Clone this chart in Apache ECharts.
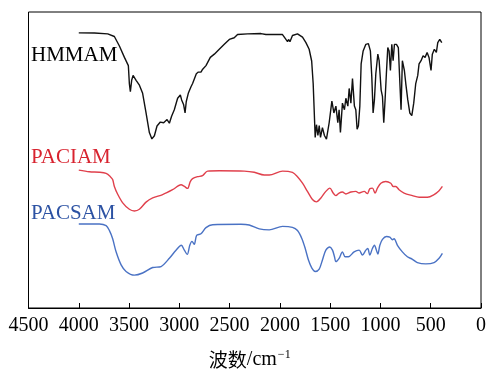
<!DOCTYPE html>
<html>
<head>
<meta charset="utf-8">
<script src="https://cdn.jsdelivr.net/npm/echarts@6/dist/echarts.min.js"></script>
<style>
html,body{margin:0;padding:0;background:#fff;}
#chart{width:489px;height:376px;}
</style>
</head>
<body>
<div id="chart"></div>
<script>
// x tick labels (wavenumber, cm-1)
const xTicks = [4500, 4000, 3500, 3000, 2500, 2000, 1500, 1000, 500, 0];
const seriesNames = ['HMMAM', 'PACIAM', 'PACSAM'];

// HMMAM (offset transmittance, arbitrary units)
const hmmamWn = [4000,3844,3712,3646,3596,3546,3507,3497,3487,3474,3460,3430,3397,3365,3331,3298,3273,3248,3222,3189,3156,3122,3099,3077,3050,3017,2990,2977,2957,2943,2931,2911,2884,2868,2851,2831,2811,2785,2772,2735,2692,2652,2603,2553,2503,2454,2421,2322,2188,2139,2056,1974,1940,1924,1914,1900,1875,1825,1775,1741,1709,1684,1669,1659,1649,1636,1622,1609,1596,1577,1557,1537,1510,1483,1463,1443,1424,1411,1398,1378,1358,1344,1324,1311,1294,1278,1259,1245,1232,1219,1205,1192,1172,1145,1120,1100,1086,1073,1060,1046,1026,1013,993,980,967,954,941,927,914,901,887,874,861,841,822,808,795,782,762,748,728,708,688,669,649,629,616,596,576,556,536,517,497,484,464,444,430,410,390];
const hmmamT = [280.7,280.5,279.7,277,267.3,255.7,247.3,229,220.7,232.3,237.3,232.3,227.3,219,199,179,172.5,175.7,185.7,189.7,189,192.3,188.5,195.7,202.3,214,217.3,212.3,207.3,199,210.7,219,225.7,229,227.3,239,240.7,240.7,243,247.3,255.7,259,264,269,274,275.7,279,279.7,280,279,279,279,274,271.7,274,271.7,278,279.7,276.3,270.7,264,252,229,202,174,187,176,186,174,184,176,172.3,189,211,199,206,189,202.3,179,209,202.3,214,206,224,209,234,206,202.3,182.3,186,206,249,262.3,269,269.7,262.3,236,199,212.3,239,259,252.3,222.3,216,189,212.3,239,265.7,262.3,242.3,269,252.3,269,269,265.7,232.3,202.3,252.3,242.3,229,212.3,199,196.3,209,229,237.3,249,252.3,257.3,255.7,260.7,255.7,242.3,259,264,260.7,270.7,274,270.7];

// PACIAM
const paciamWn = [4000,3894,3795,3728,3686,3663,3646,3613,3563,3497,3447,3397,3331,3265,3166,3067,2983,2950,2918,2891,2868,2818,2769,2719,2603,2354,2255,2156,2106,1974,1875,1825,1775,1726,1676,1636,1592,1543,1503,1470,1443,1411,1378,1344,1294,1245,1212,1162,1130,1106,1080,1053,1030,996,947,897,874,847,815,765,682,616,533,467,417,384];
const paciamT = [140.7,139,138.5,137.3,134,131,124,116,107.3,100.7,99,100.7,108,112.3,115.7,120.7,125.7,124,122,129,132,134,135,139.7,140,139.7,138.5,135.7,135.7,139.7,138.3,134,127.3,119,110.7,108.3,112.3,119,122.3,117.3,114.7,117.3,118.3,116.3,118.3,119,117.3,119,116.7,121.7,122.3,117.3,122.3,127.3,129,127.3,124,124,120.7,117.3,114.7,113,113,115.7,119.7,124];

// PACSAM
const pacsamWn = [4000,3795,3728,3695,3663,3629,3579,3530,3447,3365,3265,3182,3099,3033,2980,2950,2921,2896,2874,2851,2828,2785,2735,2669,2387,2305,2205,2106,1974,1875,1825,1781,1748,1716,1682,1649,1609,1577,1543,1503,1477,1457,1443,1411,1378,1351,1318,1262,1212,1179,1145,1126,1106,1080,1060,1040,1026,1006,980,941,907,881,864,831,782,732,682,633,549,467,417,384];
const pacsamT = [85.7,85.7,84,79,70.7,57.3,44,37.3,33.5,35.7,41.3,42.3,50.7,59,64,59,54.7,64,68,65,74,75.7,82,85,85.5,84.7,80.7,79.7,83.3,82.3,79,70.7,60.7,49,40.7,37.3,39.7,49,59,62.3,59,52.3,47.3,50.7,57.3,52.3,52.3,57.3,59,54,59,60.7,54,60.7,64,59,55,64,70,73,72.3,69.7,70.7,64,57.3,52.3,49.7,46.3,45,46.3,50.7,55.7];

function zip(a, b) { return a.map((v, i) => [v, b[i]]); }

const chart = echarts.init(document.getElementById('chart'), null, {renderer: 'canvas'});
const serif = '"Liberation Serif", "Times New Roman", serif';

chart.setOption({
  animation: false,
  backgroundColor: '#fff',
  grid: {left: 28.5, right: 7, top: 12, bottom: 62, show: true, borderColor: '#000', borderWidth: 1, backgroundColor: 'transparent'},
  xAxis: {
    type: 'value', inverse: true,
    min: xTicks[xTicks.length - 1], max: xTicks[0], interval: 500,
    axisLine: {show: true, lineStyle: {color: '#000', width: 1}},
    axisTick: {show: true, inside: true, length: 5, lineStyle: {color: '#000'}},
    splitLine: {show: false},
    axisLabel: {show: true, color: '#000', fontFamily: serif, fontSize: 20, margin: 8, showMinLabel: true, showMaxLabel: true,
      formatter: function (v) { return String(v); }},
    name: '{a|波数}{b|/cm}{c|−1}',
    nameLocation: 'middle', nameGap: 40,
    nameTextStyle: {
      padding: [0, 10, 0, 0],
      rich: {
        a: {fontFamily: '"Noto Sans CJK SC"', fontSize: 19, color: '#000', lineHeight: 24},
        b: {fontFamily: serif, fontSize: 20, color: '#000', lineHeight: 24},
        c: {fontFamily: serif, fontSize: 12, color: '#000', lineHeight: 24, padding: [0, 0, 10, 1]}
      }
    }
  },
  yAxis: {
    type: 'value', min: 0, max: 302,
    axisLine: {show: false}, axisTick: {show: false}, axisLabel: {show: false}, splitLine: {show: false}
  },
  series: [
    {name: seriesNames[0], type: 'line', data: zip(hmmamWn, hmmamT), showSymbol: false, smooth: false,
     lineStyle: {color: '#111', width: 1.4}},
    {name: seriesNames[1], type: 'line', data: zip(paciamWn, paciamT), showSymbol: false, smooth: 0.3,
     lineStyle: {color: '#e0404c', width: 1.4}},
    {name: seriesNames[2], type: 'line', data: zip(pacsamWn, pacsamT), showSymbol: false, smooth: 0.3,
     lineStyle: {color: '#4a72c4', width: 1.4}}
  ],
  graphic: [
    {type: 'text', left: 31, top: 45, style: {text: seriesNames[0], font: '21px "Liberation Serif"', fill: '#000'}},
    {type: 'text', left: 31, top: 146.5, style: {text: seriesNames[1], font: '21px "Liberation Serif"', fill: '#d8232f'}},
    {type: 'text', left: 31, top: 203, style: {text: seriesNames[2], font: '21px "Liberation Serif"', fill: '#2c52a3'}}
  ]
});
</script>
</body>
</html>
